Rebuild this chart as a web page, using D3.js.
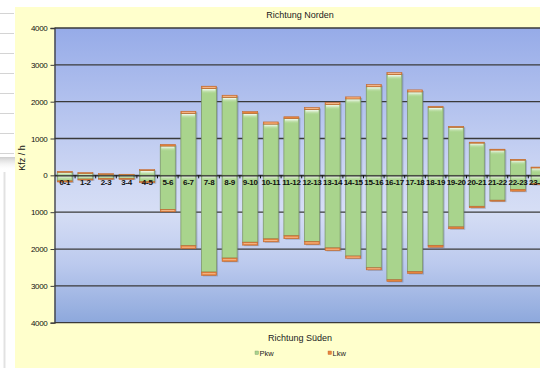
<!DOCTYPE html>
<html>
<head>
<meta charset="utf-8">
<script src="https://cdn.jsdelivr.net/npm/d3@7"></script>
<style>
  html, body { margin: 0; padding: 0; background: #fff; }
  svg { display: block; font-family: "Liberation Sans", Arial, sans-serif; }
</style>
</head>
<body>
<svg id="chart" width="540" height="368"></svg>
<script>
// Hourly traffic counts (vehicles per hour) in both directions
const hours = ["0-1","1-2","2-3","3-4","4-5","5-6","6-7","7-8","8-9","9-10","10-11","11-12",
               "12-13","13-14","14-15","15-16","16-17","17-18","18-19","19-20","20-21","21-22","22-23","23-24"];
// Richtung Norden
const pkwNord = [85, 55, 25, 25, 130, 795, 1680, 2355, 2115, 1680, 1390, 1540,
                 1785, 1920, 2075, 2405, 2735, 2265, 1845, 1305, 880, 695, 420, 210];
const lkwNord = [25, 20, 20, 5, 25, 45, 60, 65, 60, 50, 60, 50,
                 55, 55, 55, 60, 55, 55, 30, 25, 20, 15, 15, 15];
// Richtung Süden
const pkwSued = [150, 100, 80, 80, 170, 925, 1910, 2625, 2245, 1815, 1725, 1640,
                 1795, 1970, 2190, 2510, 2835, 2615, 1900, 1400, 840, 675, 385, 220];
const lkwSued = [30, 20, 20, 20, 30, 65, 80, 90, 90, 80, 80, 80,
                 80, 70, 60, 55, 45, 50, 50, 50, 40, 25, 45, 30];
const yTicks = [-4000, -3000, -2000, -1000, 0, 1000, 2000, 3000, 4000];

const svg = d3.select("#chart");
const W = 540, H = 368;
const plot = { left: 54.5, right: 548.9, top: 28, bottom: 322.7 };

const x = d3.scaleBand().domain(hours).range([plot.left, plot.right])
  .paddingInner(0.27).paddingOuter(0.135);
const y = d3.scaleLinear().domain([-4000, 4000]).range([plot.bottom, plot.top]);

const defs = svg.append("defs");
const bg = defs.append("linearGradient").attr("id", "plotBg")
  .attr("x1", 0).attr("y1", 0).attr("x2", 0).attr("y2", 1);
[[0, "#96abe8"], [0.48, "#cbd5f3"], [0.62, "#d6def5"], [0.8, "#bccaee"], [1, "#8da8dc"]]
  .forEach(([o, c]) => bg.append("stop").attr("offset", o).attr("stop-color", c));

const gloss = defs.append("linearGradient").attr("id", "gloss")
  .attr("x1", 0).attr("y1", 0).attr("x2", 0).attr("y2", 1);
[[0, "#ffffff", 0.95], [1, "#a9d48d", 0]]
  .forEach(([o, c, a]) => gloss.append("stop").attr("offset", o).attr("stop-color", c).attr("stop-opacity", a));

const shade = defs.append("linearGradient").attr("id", "rowShade")
  .attr("x1", 0).attr("y1", 0).attr("x2", 0).attr("y2", 1);
[[0, "#c8c8c8", 0.9], [1, "#ffffff", 0]]
  .forEach(([o, c, a]) => shade.append("stop").attr("offset", o).attr("stop-color", c).attr("stop-opacity", a));

// spreadsheet strip at the left
const strip = svg.append("g");
d3.range(13, 160, 20).forEach(v => {
  strip.append("line").attr("x1", 0).attr("x2", 14).attr("y1", v + 0.5).attr("y2", v + 0.5)
    .attr("stroke", "#d4d4d4");
});
strip.append("rect").attr("x", 0).attr("y", 157).attr("width", 15).attr("height", 14).attr("fill", "url(#rowShade)");
strip.append("line").attr("x1", 4.5).attr("x2", 4.5).attr("y1", 172).attr("y2", H)
  .attr("stroke", "#e2e2e2").attr("stroke-width", 2);

// chart area
svg.append("rect").attr("x", 15).attr("y", 7).attr("width", W).attr("height", H)
  .attr("fill", "#ffffcc");

// plot background
svg.append("rect").attr("x", plot.left).attr("y", plot.top)
  .attr("width", plot.right - plot.left).attr("height", plot.bottom - plot.top)
  .attr("fill", "url(#plotBg)");

// gridlines
svg.append("g").selectAll("line").data(yTicks).join("line")
  .attr("x1", plot.left).attr("x2", plot.right)
  .attr("y1", d => y(d)).attr("y2", d => y(d))
  .attr("stroke", "#3a3a3a").attr("stroke-width", 1.3);

// y axis
const yAxis = svg.append("g").attr("transform", `translate(${plot.left},0)`)
  .call(d3.axisLeft(y).tickValues(yTicks).tickSize(4).tickPadding(3).tickFormat(d => Math.abs(d)));
yAxis.select(".domain").attr("stroke", "#3a3a3a").attr("stroke-width", 1.3);
yAxis.selectAll(".tick line").attr("stroke", "#3a3a3a");
yAxis.selectAll(".tick text").attr("font-size", 8).attr("fill", "#111")
  .attr("font-family", "'Liberation Sans', Arial, sans-serif").attr("letter-spacing", "-0.3");

svg.append("text").attr("transform", `translate(25,${158}) rotate(-90)`)
  .attr("text-anchor", "middle").attr("font-size", 9).attr("fill", "#111").text("Kfz / h");

// bars
const bw = x.bandwidth();
const bars = svg.append("g");
hours.forEach((h, i) => {
  const x0 = x(h);
  const groups = [
    { pkw: pkwNord[i], lkw: lkwNord[i], s: 1 },
    { pkw: pkwSued[i], lkw: lkwSued[i], s: -1 }
  ];
  groups.forEach(g => {
    const p0 = y(0), p1 = y(g.s * g.pkw), l1 = y(g.s * (g.pkw + g.lkw));
    const topAll = Math.min(p0, l1), botAll = Math.max(p0, l1);
    // shadow
    bars.append("rect").attr("x", x0 + 1.5).attr("y", topAll + 1).attr("width", bw)
      .attr("height", botAll - topAll).attr("fill", "#4a5a70").attr("opacity", 0.3);
    // Pkw
    const pt = Math.min(p0, p1), ph = Math.abs(p1 - p0);
    bars.append("rect").attr("x", x0).attr("y", pt).attr("width", bw).attr("height", ph)
      .attr("fill", "#a9d48d").attr("stroke", "#7f9a6c").attr("stroke-width", 0.8);
    bars.append("rect").attr("x", x0 + 1).attr("y", pt + 0.5).attr("width", bw - 2)
      .attr("height", Math.min(5, ph)).attr("fill", "url(#gloss)");
    // Lkw
    const lt = Math.min(p1, l1), lh = Math.max(Math.abs(l1 - p1), 1);
    bars.append("rect").attr("x", x0).attr("y", lt).attr("width", bw).attr("height", lh)
      .attr("fill", "#e8843d").attr("stroke", "#c06a30").attr("stroke-width", 0.6);
    if (lh > 2) {
      bars.append("rect").attr("x", x0 + 1).attr("y", lt + lh / 2 - 0.4).attr("width", bw - 2)
        .attr("height", 0.8).attr("fill", "#f7c29a");
    }
  });
});

// zero axis with category labels
const xAxis = svg.append("g").attr("transform", `translate(0,${y(0)})`)
  .call(d3.axisBottom(x).tickSize(0).tickPadding(5));
xAxis.select(".domain").attr("stroke", "#2e2e2e").attr("stroke-width", 1.3);
xAxis.selectAll(".tick text").attr("font-size", 8).attr("font-weight", "bold")
  .attr("fill", "#111").attr("font-family", "'Liberation Sans', Arial, sans-serif")
  .attr("letter-spacing", "-0.3").attr("dy", "0.6em");
svg.append("g").selectAll("line").data(hours.slice(1)).join("line")
  .attr("x1", d => x(d) - x.step() * x.paddingInner() / 2)
  .attr("x2", d => x(d) - x.step() * x.paddingInner() / 2)
  .attr("y1", y(0)).attr("y2", y(0) + 3)
  .attr("stroke", "#111").attr("stroke-width", 1);

// titles
svg.append("text").attr("x", 300).attr("y", 18).attr("text-anchor", "middle")
  .attr("font-size", 9).attr("fill", "#222").text("Richtung Norden");
svg.append("text").attr("x", 300).attr("y", 341).attr("text-anchor", "middle")
  .attr("font-size", 9).attr("fill", "#222").text("Richtung Süden");

// legend
const legend = [{ name: "Pkw", color: "#a9d48d", stroke: "#7f9a6c", x: 255 },
                { name: "Lkw", color: "#e8843d", stroke: "#c06a30", x: 328 }];
const lg = svg.append("g").selectAll("g").data(legend).join("g")
  .attr("transform", d => `translate(${d.x},351)`);
lg.append("rect").attr("width", 3.5).attr("height", 3.5).attr("fill", d => d.color)
  .attr("stroke", d => d.stroke).attr("stroke-width", 0.4);
lg.append("text").attr("x", 4.5).attr("y", 4.5).attr("font-size", 7.5).attr("fill", "#222")
  .text(d => d.name);
</script>
</body>
</html>
